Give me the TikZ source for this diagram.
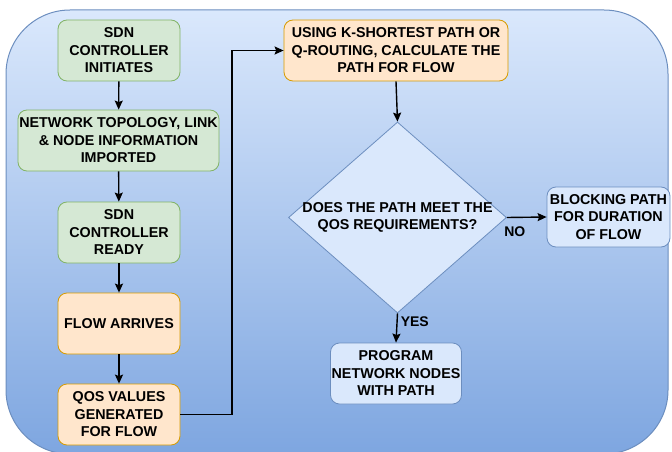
\documentclass[tikz,border=0pt]{standalone}
\usepackage{fontspec}
\setmainfont{Liberation Sans}
\usetikzlibrary{arrows.meta,shapes.geometric}
\definecolor{greenfill}{HTML}{D5E8D4}
\definecolor{greenline}{HTML}{82B366}
\definecolor{orangefill}{HTML}{FFE6CC}
\definecolor{orangeline}{HTML}{D79B00}
\definecolor{bluefill}{HTML}{DAE8FC}
\definecolor{blueline}{HTML}{6C8EBF}
\definecolor{bgbottom}{HTML}{7EA6E0}
\begin{document}
\begin{tikzpicture}[x=1pt,y=-1pt,
  boxfont/.style={font=\fontsize{14.3}{17.5}\selectfont\bfseries},
  box/.style={rectangle,rounded corners=9pt,line width=0.8pt,align=center,
    boxfont,inner sep=0pt},
  greenbox/.style={box,fill=greenfill,draw=greenline},
  orangebox/.style={box,fill=orangefill,draw=orangeline},
  bluebox/.style={box,fill=bluefill,draw=blueline},
  decision/.style={diamond,fill=bluefill,draw=blueline,line width=0.8pt,inner sep=0pt},
  flow/.style={line width=1.4pt,-{Stealth[length=9pt,width=8pt,inset=1.5pt]}},
  lbl/.style={font=\fontsize{14}{16}\selectfont\bfseries,inner sep=0pt}]
\useasboundingbox (0,0) rectangle (672,452);
% shaded panel behind the chart
\draw[top color=bluefill,bottom color=bgbottom,draw=blueline,line width=1pt,
  rounded corners=64pt] (6,10) rectangle (668,454);
% left column
\node[greenbox,minimum width=122pt,minimum height=61pt] (init) at (119,50.5)
  {SDN\\CONTROLLER\\INITIATES};
\node[greenbox,minimum width=201pt,minimum height=61pt] (topo) at (118.5,140.5)
  {NETWORK TOPOLOGY, LINK\\\& NODE INFORMATION\\IMPORTED};
\node[greenbox,minimum width=122pt,minimum height=61pt] (ready) at (119,232.5)
  {SDN\\CONTROLLER\\READY};
\node[orangebox,minimum width=122pt,minimum height=61pt] (arrive) at (119,323.5)
  {FLOW ARRIVES};
\node[orangebox,minimum width=122pt,minimum height=61pt] (qos) at (119,414.5)
  {QOS VALUES\\GENERATED\\FOR FLOW};
% right part
\node[orangebox,minimum width=224pt,minimum height=61pt] (calc) at (396,50.5)
  {USING K-SHORTEST PATH OR\\Q-ROUTING, CALCULATE THE\\PATH FOR FLOW};
\node[decision,minimum width=218pt,minimum height=191pt,
  label={[boxfont,align=center]center:DOES THE PATH MEET THE\\QOS REQUIREMENTS?}]
  (check) at (397.5,217.5) {};
\node[bluebox,minimum width=123pt,minimum height=60pt] (block) at (608.5,217)
  {BLOCKING PATH\\FOR DURATION\\OF FLOW};
\node[bluebox,minimum width=131pt,minimum height=61pt] (prog) at (396,373.5)
  {PROGRAM\\NETWORK NODES\\WITH PATH};
% connectors
\draw[flow] (init) -- (topo);
\draw[flow] (topo) -- (ready);
\draw[flow] (ready) -- (arrive);
\draw[flow] (arrive) -- (qos);
\draw[flow] (qos.east) -- (232,414.5) |- (calc.west);
\draw[flow] (calc.south) -- (check.north);
\draw[flow] (check.south) -- (prog.north)
  node[lbl,pos=0.3,right=3pt] {YES};
\draw[flow] (check.east) -- (block.west)
  node[lbl,pos=0.2,below=9pt] {NO};
\end{tikzpicture}
\end{document}
